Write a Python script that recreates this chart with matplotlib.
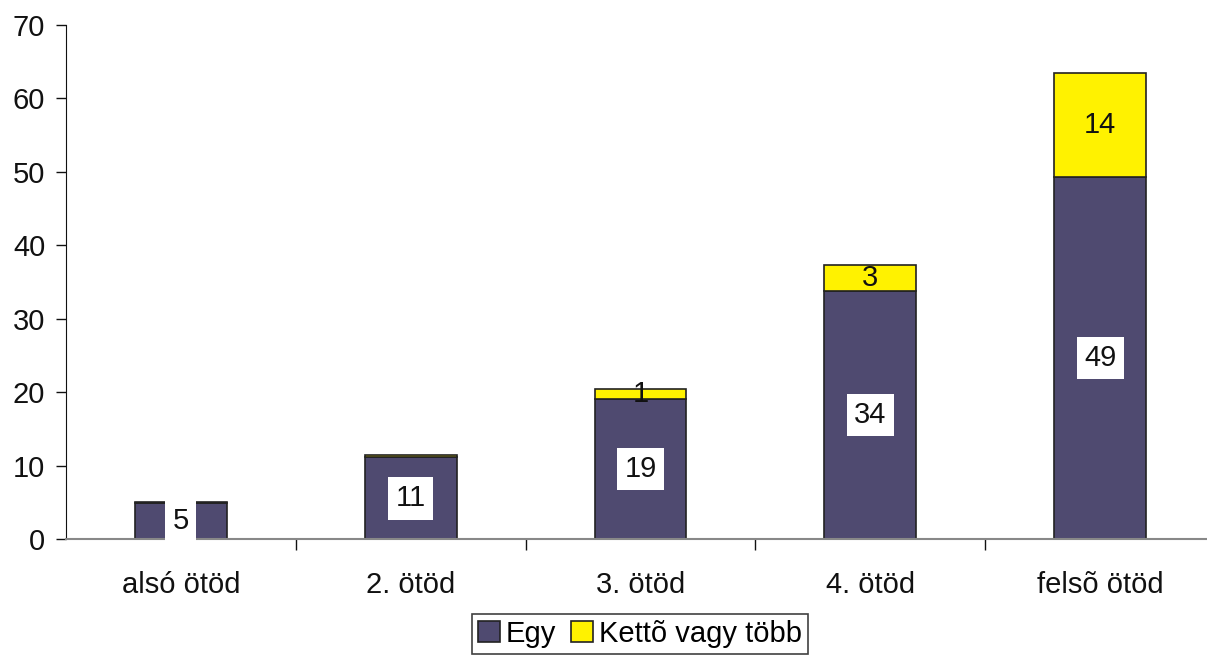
import matplotlib
matplotlib.use("Agg")
import matplotlib.pyplot as plt
import numpy as np

categories = ["alsó ötöd", "2. ötöd", "3. ötöd", "4. ötöd", "felsõ ötöd"]
egy = [4.9, 11.1, 19.1, 33.8, 49.3]
ketto = [0.15, 0.3, 1.3, 3.5, 14.2]
egy_labels = ["5", "11", "19", "34", "49"]
ketto_labels = ["", "", "1", "3", "14"]
yticks = [0, 10, 20, 30, 40, 50, 60, 70]

plt.rcParams['font.family'] = ['Liberation Sans', 'DejaVu Sans']
FS = 21

W, H = 1207, 655
fig = plt.figure(figsize=(W / 100, H / 100), dpi=100)
ax = fig.add_axes([66 / W, (H - 539) / H, (1215 - 66) / W, (539 - 25) / H])

x = np.arange(len(categories))
c_egy = "#4F4A70"
c_ket = "#FFF200"
ax.bar(x, egy, width=0.4, color=c_egy, edgecolor="#222222", linewidth=1.2, label="Egy")
ax.bar(x, ketto, width=0.4, bottom=egy, color=c_ket, edgecolor="#222222", linewidth=1.2,
       label="Kettõ vagy több")

for i in range(len(x)):
    ax.text(x[i], egy[i] / 2, egy_labels[i], ha="center", va="center", fontsize=FS,
            color="#111111",
            bbox=dict(boxstyle="square,pad=0.25", facecolor="white", edgecolor="none"))
    if ketto_labels[i]:
        ax.text(x[i], egy[i] + ketto[i] / 2, ketto_labels[i], ha="center", va="center",
                fontsize=FS, color="#111111")

ax.set_xlim(-0.5, len(categories) - 0.5)
ax.set_ylim(0, 70)
ax.set_yticks(yticks)
ax.set_yticklabels([str(v) for v in yticks], fontsize=FS, color="#111111")
ax.set_xticks(x)
ax.set_xticklabels(categories, fontsize=FS, color="#111111")
ax.tick_params(axis="x", which="major", length=0, pad=23)
ax.set_xticks(x[:-1] + 0.5, minor=True)
ax.tick_params(axis="x", which="minor", length=8, width=1, color="#111111", direction="out")
ax.tick_params(axis="y", length=7, width=1, color="#111111", direction="out", pad=8)

for s in ["top", "right"]:
    ax.spines[s].set_visible(False)
ax.spines["left"].set_color("#111111")
ax.spines["bottom"].set_color("#888888")
ax.spines["bottom"].set_linewidth(1.5)

leg = fig.legend(loc="upper center", bbox_to_anchor=(640 / W, 1 - 614 / H),
                 ncol=2, fontsize=FS, frameon=True, fancybox=False,
                 handlelength=0.75, handleheight=0.75, handletextpad=0.2,
                 columnspacing=0.5, borderpad=0.2, borderaxespad=0)
leg.get_frame().set_edgecolor("#111111")
leg.get_frame().set_linewidth(1.2)

fig.savefig("out.png", dpi=100)
